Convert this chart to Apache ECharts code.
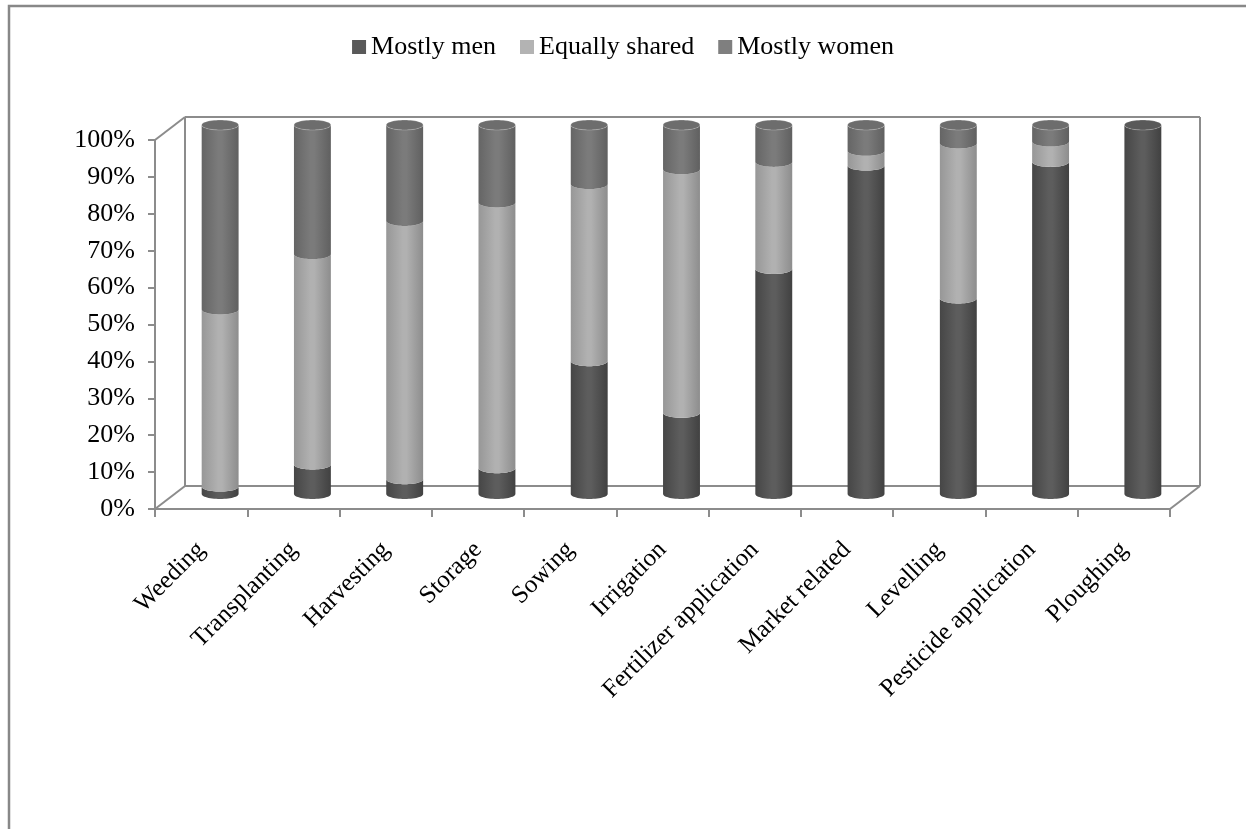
<!DOCTYPE html>
<html>
<head>
<meta charset="utf-8">
<script src="https://cdn.jsdelivr.net/npm/echarts@6/dist/echarts.min.js"></script>
<style>
  html, body { margin: 0; padding: 0; background: #ffffff; }
  #chart { width: 1246px; height: 829px; }
</style>
</head>
<body>
<div id="chart"></div>
<script>
// Share of each farm activity done by men, jointly, or by women (%)
const categories = ['Weeding', 'Transplanting', 'Harvesting', 'Storage', 'Sowing', 'Irrigation',
  'Fertilizer application', 'Market related', 'Levelling', 'Pesticide application', 'Ploughing'];
const mostlyMen     = [2, 8, 4, 7, 36, 22, 61, 89, 53, 90, 100];
const equallyShared = [48, 57, 70, 72, 48, 66, 29, 4, 42, 5.5, 0];
const mostlyWomen   = [50, 35, 26, 21, 16, 12, 10, 7, 5, 4.5, 0];
const seriesNames   = ['Mostly men', 'Equally shared', 'Mostly women'];

const FONT = 'Liberation Serif, Times New Roman, serif';
const LINE = '#8c8c8c';

// cylinder shading: [edge, highlight, far edge], cap colour, legend swatch
const palette = [
  { side: ['#464646', '#5d5d5d', '#414141'], cap: '#595959', swatch: '#595959' },
  { side: ['#979797', '#b1b1b1', '#8d8d8d'], cap: '#a9a9a9', swatch: '#b3b3b3' },
  { side: ['#656565', '#7b7b7b', '#606060'], cap: '#6d6d6d', swatch: '#7f7f7f' }
];

// 3-D look: back wall offset and bar offset from the front axes
const WALL = { dx: 30, dy: -23 };
const BAR = { dx: 19, dy: -15, widthRatio: 0.40, ry: 5 };

const layers = [mostlyMen, equallyShared, mostlyWomen];
const totals = categories.map((_, i) => layers.reduce((s, arr) => s + arr[i], 0));

function segmentData(layerIndex) {
  return categories.map((_, i) => {
    let start = 0;
    for (let k = 0; k < layerIndex; k++) start += layers[k][i];
    return [i, start, start + layers[layerIndex][i]];
  });
}

function halfEllipse(cx, cy, rx, ry, leftToRight) {
  const pts = [];
  const n = 28;
  for (let k = 0; k <= n; k++) {
    const t = Math.PI - Math.PI * k / n;
    pts.push([cx + rx * Math.cos(t), cy + ry * Math.sin(t)]);
  }
  return leftToRight ? pts : pts.reverse();
}

function fullEllipse(cx, cy, rx, ry) {
  const pts = [];
  const n = 56;
  for (let k = 0; k < n; k++) {
    const t = 2 * Math.PI * k / n;
    pts.push([cx + rx * Math.cos(t), cy + ry * Math.sin(t)]);
  }
  return pts;
}

function sideGradient(c) {
  return new echarts.graphic.LinearGradient(0, 0, 1, 0, [
    { offset: 0, color: c[0] },
    { offset: 0.45, color: c[1] },
    { offset: 0.55, color: c[1] },
    { offset: 1, color: c[2] }
  ]);
}

function cylinderRenderer(layerIndex) {
  const pal = palette[layerIndex];
  return function (params, api) {
    const i = api.value(0);
    const v0 = api.value(1);
    const v1 = api.value(2);
    if (!(v1 - v0 > 0)) return null;
    const p0 = api.coord([i, v0]);
    const p1 = api.coord([i, v1]);
    const band = api.size([1, 0])[0];
    const rx = band * BAR.widthRatio / 2;
    const cx = p0[0] + BAR.dx;
    const yb = p0[1] + BAR.dy;
    const yt = p1[1] + BAR.dy;
    const body = halfEllipse(cx, yb, rx, BAR.ry, true)
      .concat(halfEllipse(cx, yt, rx, BAR.ry, false));
    const children = [{
      type: 'polygon',
      shape: { points: body },
      style: { fill: sideGradient(pal.side), stroke: null }
    }];
    if (v1 >= totals[i] - 1e-6) {
      children.push({
        type: 'polygon',
        shape: { points: fullEllipse(cx, yt, rx, BAR.ry) },
        style: { fill: pal.cap, stroke: 'rgba(255,255,255,0.25)', lineWidth: 0.8 }
      });
    }
    return { type: 'group', children: children };
  };
}

// back wall, floor edges and connecting diagonals of the 3-D frame
function frameRenderer(params) {
  const g = params.coordSys;
  const x0 = g.x, y0 = g.y, x1 = g.x + g.width, y1 = g.y + g.height;
  const bx0 = x0 + WALL.dx, by0 = y0 + WALL.dy, bx1 = x1 + WALL.dx, by1 = y1 + WALL.dy;
  const seg = (a, b, c, d) => ({
    type: 'line', shape: { x1: a, y1: b, x2: c, y2: d },
    style: { stroke: LINE, lineWidth: 2 }
  });
  return {
    type: 'group',
    children: [
      seg(bx0, by0, bx1, by0),
      seg(bx1, by0, bx1, by1),
      seg(bx0, by1, bx1, by1),
      seg(bx0, by0, bx0, by1),
      seg(x0, y0, bx0, by0),
      seg(x0, y1, bx0, by1),
      seg(x1, y1, bx1, by1)
    ]
  };
}

const chart = echarts.init(document.getElementById('chart'), null, { renderer: 'canvas' });

const series = [{
  type: 'custom',
  name: 'frame',
  silent: true,
  data: [[0, 0]],
  encode: { x: 0, y: 1 },
  renderItem: frameRenderer,
  z: 1
}].concat(seriesNames.map((name, k) => ({
  type: 'custom',
  name: name,
  data: segmentData(k),
  encode: { x: 0, y: [1, 2] },
  itemStyle: { color: palette[k].swatch },
  renderItem: cylinderRenderer(k),
  z: 2
})));

chart.setOption({
  animation: false,
  backgroundColor: '#ffffff',
  graphic: [{
    type: 'rect',
    silent: true,
    shape: { x: 9, y: 6, width: 1400, height: 1000 },
    style: { fill: 'none', stroke: '#888888', lineWidth: 2.5 }
  }],
  legend: {
    data: seriesNames,
    top: 29,
    left: 'center',
    icon: 'rect',
    itemWidth: 14,
    itemHeight: 14,
    itemGap: 24,
    textStyle: { fontFamily: FONT, fontSize: 26, color: '#000000' }
  },
  grid: {
    left: 155, top: 140, width: 1015, height: 369,
    outerBoundsMode: 'none'
  },
  xAxis: {
    type: 'category',
    data: categories,
    boundaryGap: true,
    axisLine: { lineStyle: { color: LINE, width: 2 } },
    axisTick: { show: true, length: 8, lineStyle: { color: LINE, width: 2 } },
    axisLabel: {
      interval: 0, rotate: 45, margin: 37,
      fontFamily: FONT, fontSize: 25, color: '#000000'
    },
    splitLine: { show: false }
  },
  yAxis: {
    type: 'value',
    min: 0, max: 100, interval: 10,
    axisLine: { show: true, lineStyle: { color: LINE, width: 2 } },
    axisTick: { show: true, length: 7, lineStyle: { color: LINE, width: 2 } },
    axisLabel: {
      formatter: '{value}%', margin: 20,
      fontFamily: FONT, fontSize: 26, color: '#000000'
    },
    splitLine: { show: false }
  },
  series: series
});
</script>
</body>
</html>
